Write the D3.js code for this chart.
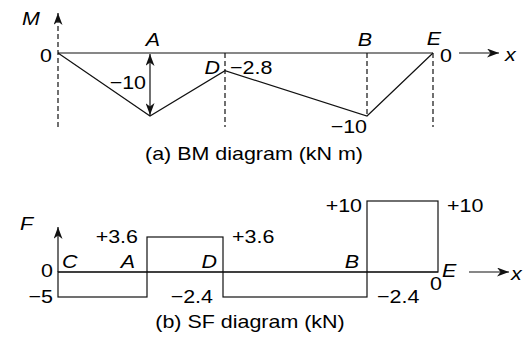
<!DOCTYPE html>
<html lang="en">
<head>
<meta charset="utf-8">
<title>BM and SF diagrams</title>
<style>
    body { margin: 0; background: #fff; }
    svg text { font-family: "Liberation Sans", Arial, sans-serif; font-size: 18.5px; fill: #000; }
</style>
</head>
<body>
<svg id="chart"></svg>
<script src="https://d3js.org/d3.v7.min.js"></script>
<script>
const width = 524;
const height = 341;

// beam points and their positions (m)
const points = ["C", "A", "D", "B", "E"];
const positions = [0, 2, 4, 7, 8];
// bending moment at each point (kN m)
const bmValues = [0, -10, -2.8, -10, 0];
// shear force on each span C-A, A-D, D-B, B-E (kN)
const sfValues = [-5, 3.6, -2.4, 10];
const captions = ["(a) BM diagram (kN m)", "(b) SF diagram (kN)"];
const axisNames = ["M", "F", "x"];

const sx = 1.16; // the original lettering is drawn wide
const ink = "#111";

const svg = d3.select("#chart")
    .attr("width", width)
    .attr("height", height)

const fmt = d3.format("");
const fmtSigned = d3.format("+");

// arrow heads
const defs = svg.append("defs");
defs.append("marker")
    .attr("id", "head")
    .attr("markerUnits", "userSpaceOnUse")
    .attr("markerWidth", 13).attr("markerHeight", 9)
    .attr("refX", 12).attr("refY", 4.5)
    .attr("orient", "auto-start-reverse")
    .append("path")
    .attr("d", "M0,0 L12,4.5 L0,9 L3.5,4.5 Z")
    .attr("fill", ink);

function label(text, x, y, anchor = "start", italic = false) {
    svg.append("text")
        .attr("transform", `translate(${x},${y}) scale(${sx},1)`)
        .attr("text-anchor", anchor)
        .attr("font-style", italic ? "italic" : "normal")
        .text(text);
}

function line(x1, y1, x2, y2, dashed = false) {
    return svg.append("line")
        .attr("x1", x1).attr("y1", y1).attr("x2", x2).attr("y2", y2)
        .attr("stroke", ink)
        .attr("stroke-width", 1.2)
        .attr("stroke-dasharray", dashed ? "5,3" : null);
}

// ---------- (a) BM diagram ----------
const bmX = d3.scaleLinear().domain(positions).range([58, 150, 225, 367, 433]);
const bmY = d3.scaleLinear().domain([-10, 0]).range([116, 53]);

const x0 = bmX(positions[0]);
const xEnd = bmX(positions[4]);
const yZero = bmY(0);

// M axis (dashed, arrow up)
line(x0, bmY(-10) + 11, x0, 13, true).attr("marker-end", "url(#head)");
// dashed drops at D, B, E
line(bmX(positions[2]), yZero, bmX(positions[2]), bmY(-10) + 11, true);
line(bmX(positions[3]), yZero, bmX(positions[3]), bmY(bmValues[3]), true);
line(xEnd, yZero, xEnd, bmY(-10) + 11, true);
// baseline
line(x0, yZero, xEnd, yZero);

svg.append("path")
    .datum(bmValues)
    .attr("d", d3.line().x((d, i) => bmX(positions[i])).y(d => bmY(d)))
    .attr("fill", "none")
    .attr("stroke", ink)
    .attr("stroke-width", 1.2);

// double arrow at A
line(bmX(positions[1]), yZero + 1, bmX(positions[1]), bmY(bmValues[1]) - 1)
    .attr("marker-start", "url(#head)")
    .attr("marker-end", "url(#head)");

// x arrow
line(xEnd + 26, yZero, xEnd + 66, yZero).attr("marker-end", "url(#head)");

label(axisNames[0], 22, 25, "start", true);
label(fmt(bmValues[0]), x0 - 6, yZero + 9, "end");
label(points[1], bmX(positions[1]) + 3, yZero - 7, "middle", true);
label(fmt(bmValues[1]), bmX(positions[1]) - 4, (yZero + bmY(bmValues[1])) / 2 + 4, "end");
label(points[2], bmX(positions[2]) - 5, bmY(bmValues[2]) + 3, "end", true);
label(fmt(bmValues[2]), bmX(positions[2]) + 5, bmY(bmValues[2]) + 3);
label(points[3], bmX(positions[3]) - 2, yZero - 7, "middle", true);
label(fmt(bmValues[3]), bmX(positions[3]), bmY(bmValues[3]) + 17, "end");
label(points[4], xEnd + 1, yZero - 8, "middle", true);
label(fmt(bmValues[4]), xEnd + 7, yZero + 9);
label(axisNames[2], xEnd + 72, yZero + 8, "start", true);
label(captions[0], 254, 160, "middle");

// ---------- (b) SF diagram ----------
const sfX = d3.scaleLinear().domain(positions).range([58, 147, 223, 367, 438]);
// schematic (not to scale) levels
const sfY = d3.scaleLinear().domain([-5, -2.4, 0, 3.6, 10]).range([297, 297, 272, 237, 201]);

const s0 = sfX(positions[0]);
const sEnd = sfX(positions[4]);
const sZero = sfY(0);

svg.selectAll("rect.sf")
    .data(sfValues)
    .enter()
    .append("rect")
    .attr("class", "sf")
    .attr("x", (d, i) => sfX(positions[i]))
    .attr("width", (d, i) => sfX(positions[i + 1]) - sfX(positions[i]))
    .attr("y", d => Math.min(sfY(d), sZero))
    .attr("height", d => Math.abs(sfY(d) - sZero))
    .attr("fill", "none")
    .attr("stroke", ink)
    .attr("stroke-width", 1.2);

// F axis
line(s0, sZero, s0, 227).attr("marker-end", "url(#head)");
line(s0, sZero, sEnd, sZero);
// x arrow
line(sEnd + 31, sZero, sEnd + 71, sZero).attr("marker-end", "url(#head)");

label(axisNames[1], 20, 230, "start", true);
label("0", s0 - 5, sZero + 5, "end");
label(fmt(sfValues[0]), s0 - 5, sfY(sfValues[0]) + 6, "end");
label(points[0], s0 + 4, sZero - 4, "start", true);
label(points[1], sfX(positions[1]) - 12, sZero - 4, "end", true);
label(fmtSigned(sfValues[1]), sfX(positions[1]) - 9, sfY(sfValues[1]) + 6, "end");
label(points[2], sfX(positions[2]) - 6, sZero - 4, "end", true);
label(fmtSigned(sfValues[1]), sfX(positions[2]) + 9, sfY(sfValues[1]) + 6);
label(fmt(sfValues[2]), sfX(positions[2]) - 10, sfY(sfValues[2]) + 6, "end");
label(points[3], sfX(positions[3]) - 8, sZero - 4, "end", true);
label(fmtSigned(sfValues[3]), sfX(positions[3]) - 5, sfY(sfValues[3]) + 11, "end");
label(fmt(sfValues[2]), sfX(positions[3]) + 10, sfY(sfValues[2]) + 6);
label(fmtSigned(sfValues[3]), sEnd + 9, sfY(sfValues[3]) + 11);
label(points[4], sEnd + 4, sZero + 5, "start", true);
label("0", sEnd - 8, sZero + 18);
label(axisNames[2], sEnd + 73, sZero + 8, "start", true);
label(captions[1], 250, 328, "middle");
</script>
</body>
</html>
